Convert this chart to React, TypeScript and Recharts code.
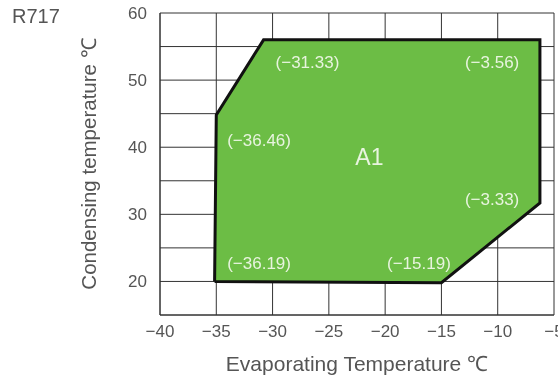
import {
  ScatterChart,
  Scatter,
  XAxis,
  YAxis,
  CartesianGrid,
  ReferenceDot,
} from "recharts";

// envelope vertices (evaporating °C, condensing °C), closed
const envelopeEvap = [-35.15, -35, -30.8, -6.25, -6.25, -15, -35.15];
const envelopeCond = [20, 44.8, 56, 56, 31.7, 19.8, 20];

const xTicks = [-40, -35, -30, -25, -20, -15, -10, -5];
const yTicks = [15, 20, 25, 30, 35, 40, 45, 50, 55, 60];

// annotation texts and where they sit (data coords)
const noteText = ["(−31.33)", "(−3.56)", "(−36.46)", "A1", "(−3.33)", "(−36.19)", "(−15.19)"];
const noteEvap = [-26.9, -10.5, -31.2, -21.4, -10.5, -31.2, -17];
const noteCond = [52.7, 52.7, 41.1, 38.6, 32.3, 22.7, 22.7];

const envelope = envelopeEvap.map((x, i) => ({ x, y: envelopeCond[i] }));

const FONT = "'Liberation Sans', Arial, sans-serif";
const INK = "#555";

export default function App() {
  return (
    <div style={{ position: "fixed", left: 0, top: 0, width: 558, height: 380, fontFamily: FONT }}>
      <div style={{ position: "absolute", left: 12, top: 5, fontSize: 20, color: INK }}>R717</div>
      <ScatterChart width={558} height={380} margin={{ top: 13, right: 4, bottom: 0, left: 0 }}>
        <CartesianGrid stroke="#333" strokeWidth={1} />
        <XAxis
          type="number"
          dataKey="x"
          domain={[-40, -5]}
          ticks={xTicks}
          interval={0}
          height={65}
          tickLine={false}
          axisLine={{ stroke: "#333" }}
          tickMargin={4}
          tickFormatter={(v: number) => String(v).replace("-", "−")}
          tick={{ fill: INK, fontSize: 17, fontFamily: FONT }}
          label={{ value: "Evaporating Temperature ℃", position: "center", dy: 16, fill: INK, fontSize: 21, fontFamily: FONT }}
        />
        <YAxis
          type="number"
          dataKey="y"
          domain={[15, 60]}
          ticks={yTicks}
          interval={0}
          width={160}
          tickLine={false}
          axisLine={{ stroke: "#333" }}
          tickMargin={7}
          tickFormatter={(v: number) => (v % 10 === 0 ? String(v) : "")}
          tick={{ fill: INK, fontSize: 17, fontFamily: FONT }}
          label={{ value: "Condensing temperature ℃", angle: -90, position: "center", dx: 9, fill: INK, fontSize: 20.5, fontFamily: FONT }}
        />
        <Scatter
          data={envelope}
          isAnimationActive={false}
          line={{ stroke: "#111", strokeWidth: 3, fill: "#6cbd45", strokeLinejoin: "miter" }}
          lineType="joint"
          shape={() => <g />}
        />
        {noteText.map((t, i) => (
          <ReferenceDot
            key={t}
            x={noteEvap[i]}
            y={noteCond[i]}
            r={0}
            stroke="none"
            fill="none"
            label={{
              value: t,
              position: "center",
              fill: "#e8f4df",
              fontSize: t === "A1" ? 23 : 17,
              fontFamily: FONT,
            }}
          />
        ))}
      </ScatterChart>
    </div>
  );
}
